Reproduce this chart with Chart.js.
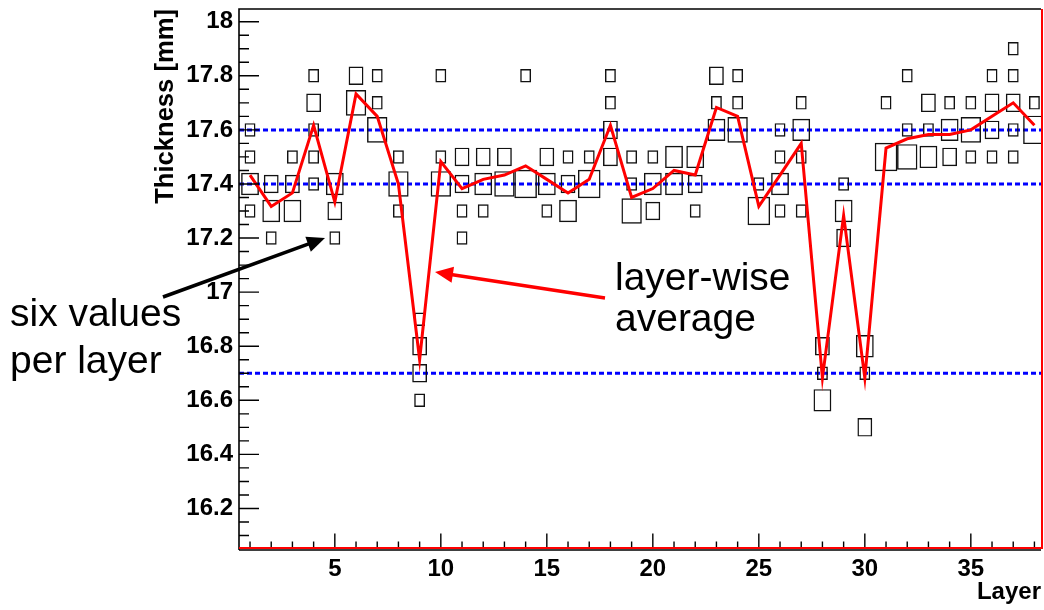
<!DOCTYPE html>
<html>
<head>
<meta charset="utf-8">
<script src="https://cdn.jsdelivr.net/npm/chart.js@4.4.1/dist/chart.umd.min.js"></script>
<style>
  html, body { margin: 0; padding: 0; background: #fff; }
  canvas { display: block; }
</style>
</head>
<body>
<canvas id="thicknessChart" width="1044" height="610"></canvas>
<script>
// Thickness per layer: six values per layer, binned in 0.1 mm cells (box = count)
const layers = [1, 2, 3, 4, 5, 6, 7, 8, 9, 10, 11, 12, 13, 14, 15, 16, 17, 18, 19,
  20, 21, 22, 23, 24, 25, 26, 27, 28, 29, 30, 31, 32, 33, 34, 35, 36, 37, 38];

const cellThickness = [
  [17.6, 17.5, 17.4, 17.3], [17.4, 17.3, 17.2], [17.5, 17.4, 17.3],
  [17.8, 17.7, 17.6, 17.5, 17.4], [17.4, 17.3, 17.2], [17.8, 17.7],
  [17.8, 17.7, 17.6], [17.5, 17.4, 17.3], [16.9, 16.8, 16.7, 16.6],
  [17.8, 17.5, 17.4], [17.5, 17.4, 17.3, 17.2], [17.5, 17.4, 17.3],
  [17.5, 17.4], [17.8, 17.4], [17.5, 17.4, 17.3], [17.5, 17.4, 17.3],
  [17.5, 17.4], [17.8, 17.7, 17.6, 17.5], [17.5, 17.4, 17.3],
  [17.5, 17.4, 17.3], [17.5, 17.4], [17.5, 17.4, 17.3], [17.8, 17.7, 17.6],
  [17.8, 17.7, 17.6], [17.4, 17.3], [17.6, 17.5, 17.4, 17.3],
  [17.7, 17.6, 17.5, 17.3], [16.8, 16.7, 16.6], [17.4, 17.3, 17.2],
  [16.8, 16.7, 16.5], [17.7, 17.5], [17.8, 17.6, 17.5], [17.7, 17.6, 17.5],
  [17.7, 17.6, 17.5], [17.7, 17.6, 17.5], [17.8, 17.7, 17.6, 17.5],
  [17.9, 17.8, 17.7, 17.6, 17.5], [17.7, 17.6]
];

const cellCount = [
  [1, 1, 3, 1], [2, 3, 1], [1, 2, 3],
  [1, 2, 1, 1, 1], [3, 2, 1], [2, 4],
  [1, 1, 4], [1, 4, 1], [1, 2, 2, 1],
  [1, 1, 4], [2, 2, 1, 1], [2, 3, 1],
  [2, 4], [1, 5], [2, 3, 1], [1, 2, 3],
  [1, 5], [1, 1, 2, 2], [1, 1, 4],
  [1, 3, 2], [3, 3], [3, 2, 1], [2, 1, 3],
  [1, 1, 4], [1, 5], [1, 1, 3, 1],
  [1, 3, 1, 1], [2, 1, 3], [1, 3, 2],
  [3, 1, 2], [1, 5], [1, 1, 4], [2, 1, 3],
  [1, 3, 2], [1, 4, 1], [1, 2, 2, 1],
  [1, 1, 2, 1, 1], [1, 5]
];

const layerAverage = [17.433, 17.317, 17.367, 17.617, 17.333, 17.733, 17.65, 17.4,
  16.75, 17.483, 17.383, 17.417, 17.433, 17.467, 17.417, 17.367, 17.417, 17.617,
  17.35, 17.383, 17.45, 17.433, 17.683, 17.65, 17.317, 17.433, 17.55, 16.683,
  17.283, 16.683, 17.533, 17.567, 17.583, 17.583, 17.6, 17.65, 17.7, 17.617];

const refLines = [17.6, 17.4, 16.7];

const xTickValues = [5, 10, 15, 20, 25, 30, 35];
const xTickLabels = ['5', '10', '15', '20', '25', '30', '35'];
const yTickValues = [16.2, 16.4, 16.6, 16.8, 17, 17.2, 17.4, 17.6, 17.8, 18];
const yTickLabels = ['16.2', '16.4', '16.6', '16.8', '17', '17.2', '17.4', '17.6', '17.8', '18'];

const xRange = [0.48, 38.31];
const yRange = [16.052, 18.047];
const maxCount = 5;
const binHalf = 0.05;

const boldFont = { family: "'Liberation Sans', Arial, sans-serif", size: 24, weight: 'bold' };

// one floating-bar dataset per cell count, box side ~ sqrt(count)
function boxDatasets() {
  const sets = [];
  for (let n = 1; n <= maxCount; n++) {
    const f = Math.sqrt(n / maxCount);
    const data = [];
    layers.forEach((layer, i) => {
      cellThickness[i].forEach((t, j) => {
        if (cellCount[i][j] === n) {
          data.push({ x: layer, y: [t - binHalf * f, t + binHalf * f] });
        }
      });
    });
    sets.push({
      type: 'bar',
      data: data,
      barPercentage: f,
      categoryPercentage: 1,
      grouped: false,
      backgroundColor: 'rgba(0,0,0,0)',
      borderColor: '#111',
      // thin border + inflate => outline centred on the box edge, like ROOT
      borderWidth: 0.05,
      inflateAmount: 0.7,
      borderSkipped: false,
      order: 1
    });
  }
  return sets;
}

const refDatasets = refLines.map(v => ({
  type: 'line',
  data: [{ x: xRange[0], y: v }, { x: xRange[1], y: v }],
  borderColor: '#0000ff',
  borderWidth: 3,
  borderDash: [5, 3],
  pointRadius: 0,
  order: 2
}));

const averageDataset = {
  type: 'line',
  data: layers.map((l, i) => ({ x: l, y: layerAverage[i] })),
  borderColor: '#ff0000',
  borderWidth: 3,
  pointRadius: 0,
  tension: 0,
  fill: false,
  order: 0
};

// ROOT-like frame with ticks inside the plot
const rootFrame = {
  id: 'rootFrame',
  afterDatasetsDraw(chart) {
    const { ctx, chartArea: a, scales: { x, y } } = chart;
    ctx.save();
    ctx.strokeStyle = '#000';
    ctx.lineWidth = 1.4;
    ctx.beginPath();
    for (let l = Math.ceil(x.min); l <= Math.floor(x.max); l++) {
      const px = x.getPixelForValue(l);
      ctx.moveTo(px, a.bottom);
      ctx.lineTo(px, a.bottom - (l % 5 === 0 ? 15 : 7));
    }
    for (let k = Math.ceil(y.min / 0.05 - 1e-6); k * 0.05 <= y.max + 1e-9; k++) {
      const py = y.getPixelForValue(k * 0.05);
      ctx.moveTo(a.left, py);
      ctx.lineTo(a.left + (k % 4 === 0 ? 20 : 10), py);
    }
    ctx.stroke();

    ctx.lineWidth = 1.6;
    ctx.beginPath();
    ctx.moveTo(a.left, a.bottom + 1.5);
    ctx.lineTo(a.left, a.top);
    ctx.lineTo(a.right, a.top);
    ctx.moveTo(a.left, a.bottom + 1.5);
    ctx.lineTo(a.right, a.bottom + 1.5);
    ctx.stroke();

    ctx.strokeStyle = '#ff0000';
    ctx.lineWidth = 2;
    ctx.beginPath();
    ctx.moveTo(a.left, a.bottom - 0.5);
    ctx.lineTo(a.right + 1, a.bottom - 0.5);
    ctx.lineTo(a.right + 1, a.top);
    ctx.stroke();
    ctx.restore();
  }
};

function arrow(ctx, x0, y0, x1, y1, color) {
  const ang = Math.atan2(y1 - y0, x1 - x0);
  const head = 18, half = 8;
  ctx.strokeStyle = color;
  ctx.fillStyle = color;
  ctx.lineWidth = 3.5;
  ctx.beginPath();
  ctx.moveTo(x0, y0);
  ctx.lineTo(x1 - Math.cos(ang) * head * 0.8, y1 - Math.sin(ang) * head * 0.8);
  ctx.stroke();
  ctx.beginPath();
  ctx.moveTo(x1, y1);
  ctx.lineTo(x1 - Math.cos(ang) * head - Math.sin(ang) * half, y1 - Math.sin(ang) * head + Math.cos(ang) * half);
  ctx.lineTo(x1 - Math.cos(ang) * head + Math.sin(ang) * half, y1 - Math.sin(ang) * head - Math.cos(ang) * half);
  ctx.closePath();
  ctx.fill();
}

const notes = {
  id: 'notes',
  afterDraw(chart) {
    const ctx = chart.ctx;
    ctx.save();
    ctx.font = "39px 'Liberation Sans', Arial, sans-serif";
    ctx.fillStyle = '#000';
    ctx.textAlign = 'left';
    ctx.textBaseline = 'alphabetic';
    ctx.fillText('six values', 10, 326);
    ctx.fillText('per layer', 10, 373);
    ctx.fillText('layer-wise', 615, 290);
    ctx.fillText('average', 615, 331);
    arrow(ctx, 163, 297, 325, 238, '#000');
    arrow(ctx, 605, 298, 435, 272, '#ff0000');
    ctx.restore();
  }
};

new Chart(document.getElementById('thicknessChart'), {
  type: 'bar',
  data: {
    datasets: [averageDataset, ...boxDatasets(), ...refDatasets]
  },
  options: {
    responsive: false,
    animation: false,
    events: [],
    layout: { padding: { left: 0, right: 3, top: 9, bottom: 0 } },
    plugins: {
      legend: { display: false },
      tooltip: { enabled: false }
    },
    scales: {
      x: {
        type: 'linear',
        min: xRange[0],
        max: xRange[1],
        offset: false,
        grid: { display: false, drawTicks: false },
        border: { display: false },
        afterBuildTicks: s => { s.ticks = xTickValues.map(v => ({ value: v })); },
        afterFit: s => {
          s.height = 61.5;
          s.paddingLeft = 0;
          s.paddingRight = 0;
        },
        ticks: {
          autoSkip: false,
          maxRotation: 0,
          padding: 6,
          color: '#000',
          font: boldFont,
          callback: (v, i) => xTickLabels[i]
        },
        title: {
          display: true,
          text: 'Layer',
          align: 'end',
          color: '#000',
          font: boldFont,
          padding: { top: 0, bottom: 3 }
        }
      },
      y: {
        min: yRange[0],
        max: yRange[1],
        grid: { display: false, drawTicks: false },
        border: { display: false },
        afterBuildTicks: s => { s.ticks = yTickValues.map(v => ({ value: v })); },
        afterFit: s => {
          s.width = 239;
          s.paddingTop = 0;
          s.paddingBottom = 0;
        },
        ticks: {
          padding: 6,
          color: '#000',
          font: boldFont,
          callback: (v, i) => yTickLabels[i]
        },
        title: {
          display: true,
          text: 'Thickness [mm]',
          align: 'end',
          color: '#000',
          font: { family: "'Liberation Sans', Arial, sans-serif", size: 25.6, weight: 'bold' },
          padding: { top: 151, bottom: 0 }
        }
      }
    }
  },
  plugins: [rootFrame, notes]
});
</script>
</body>
</html>
